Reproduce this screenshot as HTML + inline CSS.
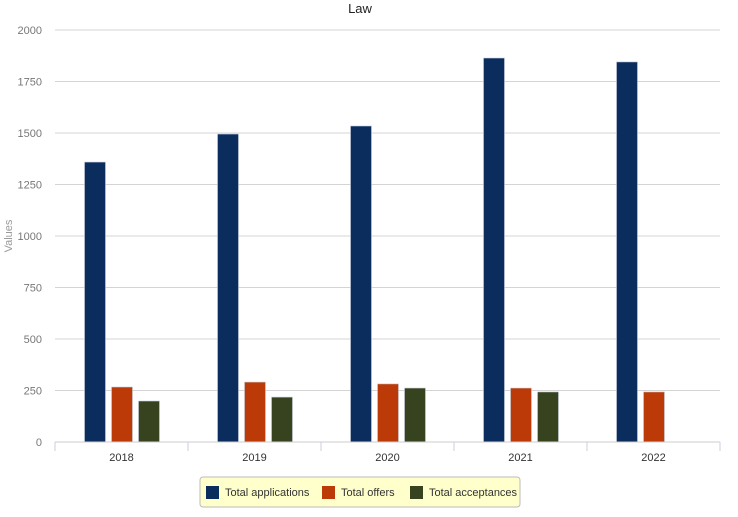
<!DOCTYPE html>
<html><head><meta charset="utf-8"><style>
body{margin:0;background:#fff;font-family:"Liberation Sans",Arial,sans-serif;}
svg text{font-family:"Liberation Sans",Arial,sans-serif;}
</style></head><body>
<svg id="chart" width="738" height="512">
<text x="360" y="13" font-size="13" text-anchor="middle" fill="#222">Law</text>
<text transform="translate(12,236) rotate(-90)" font-size="11" fill="#999" text-anchor="middle">Values</text>
<g id="grid"></g><g id="bars"></g><g id="xaxis"></g>
<g>
<rect x="200" y="477" width="320" height="30" rx="3" fill="#ffffcc" stroke="#bbb"/>
<g><rect x="206" y="486" width="13" height="13" fill="#0b2d5e"/><text x="225" y="496" font-size="11" fill="#333">Total applications</text></g>
<g><rect x="322" y="486" width="13" height="13" fill="#bb3a07"/><text x="341" y="496" font-size="11" fill="#333">Total offers</text></g>
<g><rect x="410" y="486" width="13" height="13" fill="#36431e"/><text x="429" y="496" font-size="11" fill="#333">Total acceptances</text></g>
</g>
</svg>
<script>
const categories=["2018","2019","2020","2021","2022"];
const applications=[1359,1495,1534,1864,1845];
const offers=[267,291,282,262,243];
const acceptances=[199,218,262,243,0];
const yTicks=[0,250,500,750,1000,1250,1500,1750,2000];
const NS="http://www.w3.org/2000/svg";
const x0=55,x1=720,yTop=30,yBase=442,yMax=2000;
const bw=(x1-x0)/categories.length;
const y=v=>yBase-(v/yMax)*(yBase-yTop);
function mk(tag,attrs,parent){const e=document.createElementNS(NS,tag);for(const k in attrs)e.setAttribute(k,attrs[k]);parent.appendChild(e);return e;}
const grid=document.getElementById('grid');
yTicks.forEach(t=>{
 const l=mk('line',{x1:x0,x2:x1,y1:y(t),y2:y(t),stroke:'#d4d4d4','stroke-width':1},grid);
 
 
 const tx=mk('text',{x:42,y:y(t)+4,'font-size':11,fill:'#777','text-anchor':'end'},grid);
 tx.textContent=t;
 
 
});
const xa=document.getElementById('xaxis');
const base=mk('line',{x1:x0,x2:x1,y1:yBase,y2:yBase,stroke:'#ccc'},xa);


for(let i=0;i<=categories.length;i++){
 const tk=mk('line',{x1:x0+i*bw,x2:x0+i*bw,y1:yBase,y2:yBase+9,stroke:'#ccd'},xa);
 
 
}
const series=[[applications,'#0b2d5e','applications'],[offers,'#bb3a07','offers'],[acceptances,'#36431e','acceptances']];
const bars=document.getElementById('bars');
const barW=21,step=27;
categories.forEach((c,i)=>{
 const cx=x0+(i+0.5)*bw;
 const lb=mk('text',{x:cx,y:461,'font-size':11,fill:'#333','text-anchor':'middle'},xa);
 lb.textContent=c;
 
 
 series.forEach((s,j)=>{
  const v=s[0][i]; if(!v) return;
  const bx=cx-37+j*step;
  const r=mk('rect',{x:bx,y:y(v),width:barW,height:yBase-y(v),fill:s[1],stroke:'#c8d0dc','stroke-width':0.6},bars);
  
  
 });
});
</script>
</body></html>
